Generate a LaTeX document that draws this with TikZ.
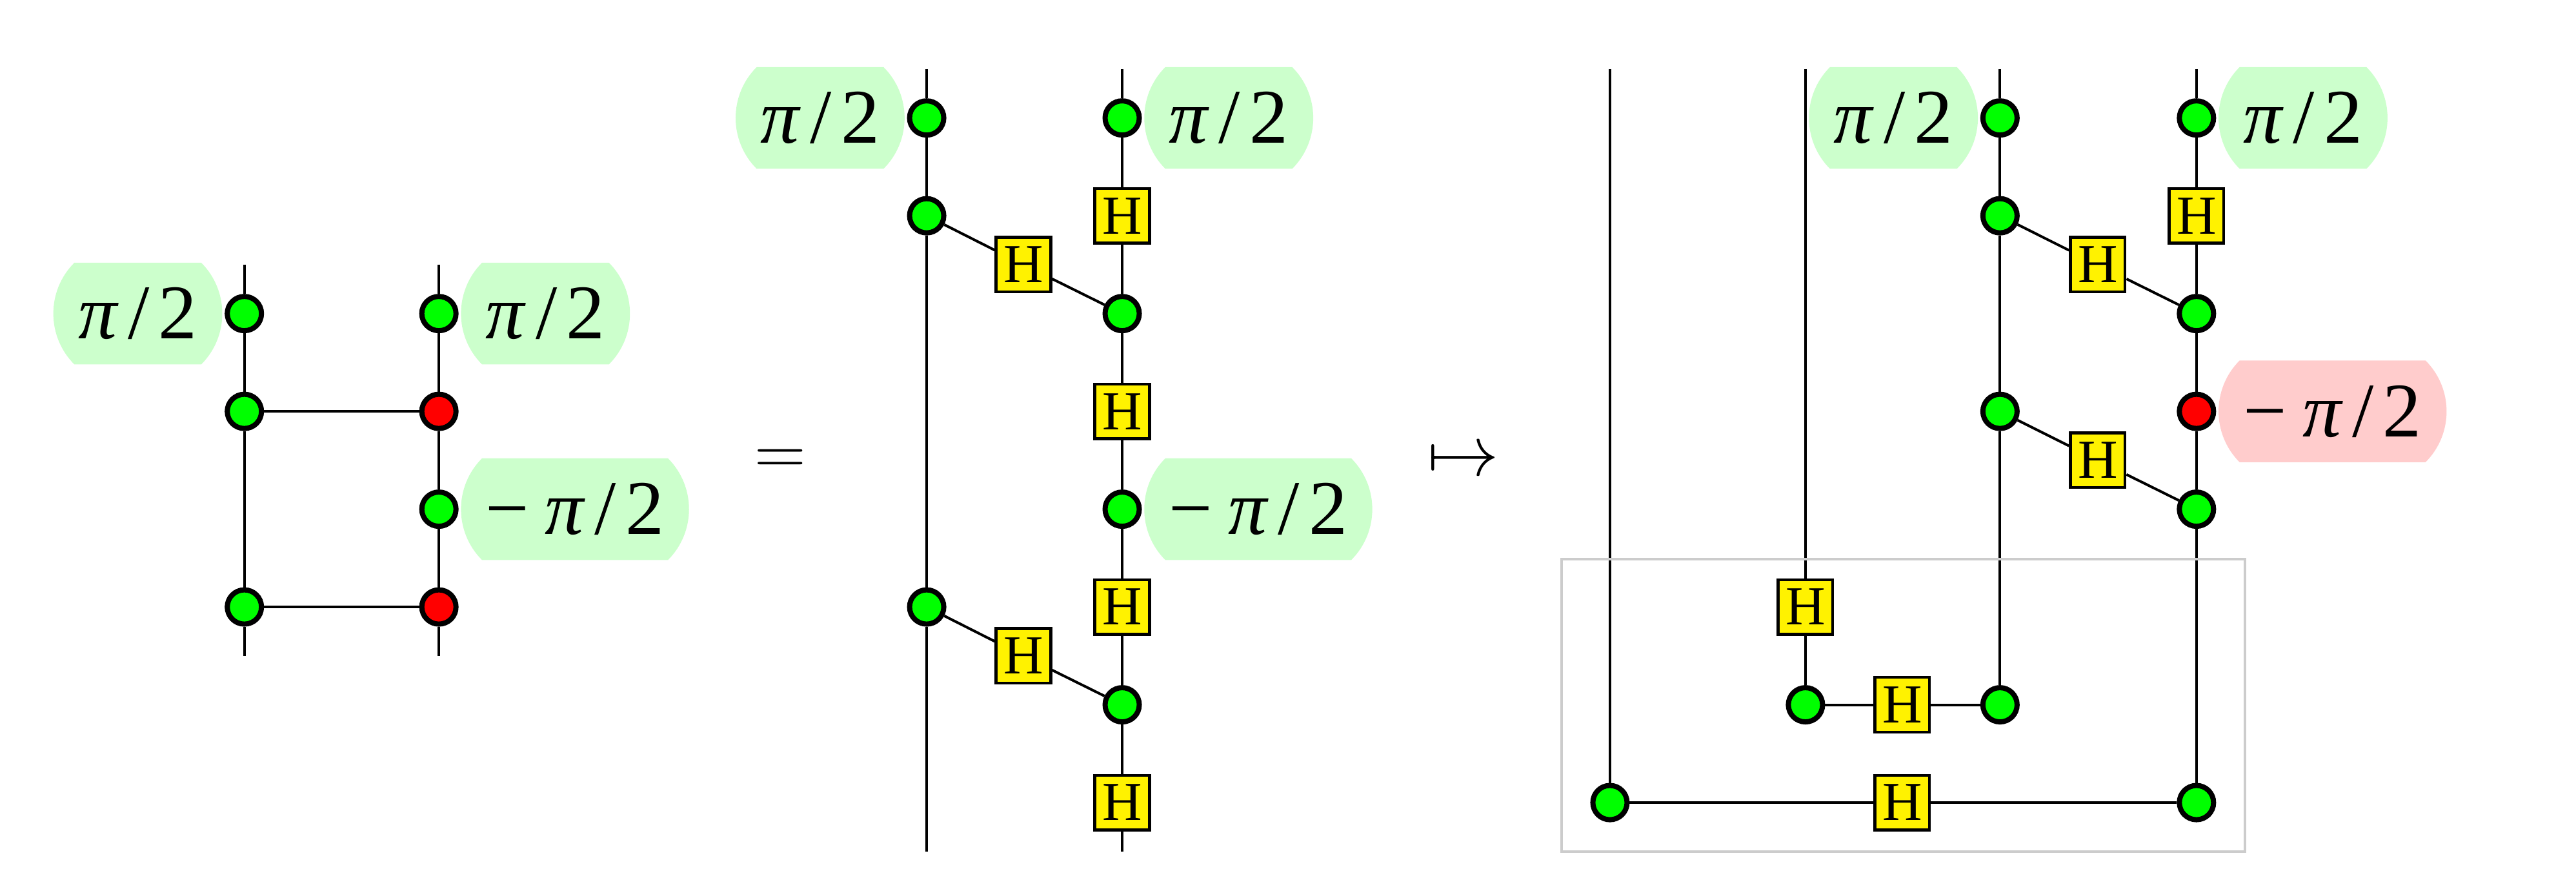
\documentclass[tikz,border=0pt]{standalone}
\usepackage{amsmath}
\usepackage{amssymb}
\usepackage{fontspec}
\setmainfont{Liberation Serif}
\usetikzlibrary{positioning,shapes.misc,backgrounds}
\newcommand{\halfpi}{\textit{π}\kern.12em/\kern.12em 2}
\tikzset{
wire/.style={line width=.75pt},
gs/.style={circle,draw,line width=1.5pt,fill=green,minimum size=.35cm,inner sep=0pt},
rs/.style={gs,fill=red},
hbox/.style={rectangle,draw,line width=.8pt,fill=yellow,minimum size=.56cm,inner sep=0pt,font=\fontsize{16}{19}\selectfont},
gphase/.style={rounded rectangle,rounded rectangle arc length=90,fill=green!20,minimum height=1.04cm,inner xsep=.205cm,inner ysep=0pt,font=\fontsize{22.5}{27}\selectfont},
rphase/.style={gphase,fill=red!20},
groupbox/.style={rectangle,draw=black!20,line width=.8pt,minimum width=6.99cm,minimum height=2.99cm,inner sep=0pt},
}

\begin{document}
\begin{tikzpicture}
\useasboundingbox (0,-.403) rectangle (26.353,8.706);

\node[groupbox] (box) at (19.47,1.495) {};

% left
\coordinate (at1) at (2.5,6);
\coordinate (at2) at (4.49,6);
\coordinate (ab1) at (2.5,2);
\coordinate (ab2) at (4.49,2);
\node[gs] (a1) at (2.5,5.5) {};
\node[gs] (a2) at (2.5,4.5) {};
\node[gs] (a3) at (2.5,2.5) {};
\node[gs] (a4) at (4.49,5.5) {};
\node[rs] (a5) at (4.49,4.5) {};
\node[gs] (a6) at (4.49,3.5) {};
\node[rs] (a7) at (4.49,2.5) {};
\node[gphase,left=.5pt of a1] (pa1) {\halfpi};
\node[gphase,right=.5pt of a4] (pa4) {\halfpi};
\node[gphase,right=.5pt of a6] (pa6) {−\kern.2em\halfpi};

\node (eq) at (7.98,3.98) {\huge $=$};

% middle
\coordinate (bt1) at (9.48,8);
\coordinate (bt2) at (11.48,8);
\coordinate (bb1) at (9.48,0);
\coordinate (bb2) at (11.48,0);
\node[gs] (b1) at (9.48,7.5) {};
\node[gs] (b2) at (9.48,6.5) {};
\node[gs] (b3) at (9.48,2.5) {};
\node[gs] (b4) at (11.48,7.5) {};
\node[hbox] (h1) at (11.48,6.5) {H};
\node[gs] (b5) at (11.48,5.5) {};
\node[hbox] (h2) at (11.48,4.5) {H};
\node[gs] (b6) at (11.48,3.5) {};
\node[hbox] (h3) at (11.48,2.5) {H};
\node[gs] (b7) at (11.48,1.5) {};
\node[hbox] (h4) at (11.48,.5) {H};
\node[hbox] (h5) at (10.47,6) {H};
\node[hbox] (h6) at (10.47,2) {H};
\node[gphase,left=.5pt of b1] (pb1) {\halfpi};
\node[gphase,right=.5pt of b4] (pb4) {\halfpi};
\node[gphase,right=.5pt of b6] (pb6) {−\kern.2em\halfpi};

\node (to) at (14.97,3.98) {\huge $\mapsto$};

% right
\coordinate (ct1) at (16.47,8);
\coordinate (ct2) at (18.47,8);
\coordinate (ct3) at (20.46,8);
\coordinate (ct4) at (22.47,8);
\node[gs] (c1) at (16.47,.5) {};
\node[gs] (c2) at (18.47,1.5) {};
\node[gs] (c3) at (20.46,7.5) {};
\node[gs] (c4) at (20.46,6.5) {};
\node[gs] (c5) at (20.46,4.5) {};
\node[gs] (c6) at (20.46,1.5) {};
\node[gs] (c7) at (22.47,7.5) {};
\node[gs] (c8) at (22.47,5.5) {};
\node[rs] (c9) at (22.47,4.5) {};
\node[gs] (c10) at (22.47,3.5) {};
\node[gs] (c11) at (22.47,.5) {};
\node[hbox] (k1) at (18.47,2.5) {H};
\node[hbox] (k2) at (19.46,1.5) {H};
\node[hbox] (k3) at (19.46,.5) {H};
\node[hbox] (k4) at (22.47,6.5) {H};
\node[hbox] (k5) at (21.46,6) {H};
\node[hbox] (k6) at (21.46,4) {H};
\node[gphase,left=.5pt of c3] (pc3) {\halfpi};
\node[gphase,right=.5pt of c7] (pc7) {\halfpi};
\node[rphase,right=.5pt of c9] (pc9) {−\kern.2em\halfpi};

\begin{pgfonlayer}{background}
\draw[wire] (at1) -- (a1) -- (a2) -- (a3) -- (ab1);
\draw[wire] (at2) -- (a4) -- (a5) -- (a6) -- (a7) -- (ab2);
\draw[wire] (a2) -- (a5);
\draw[wire] (a3) -- (a7);
\draw[wire] (bt1) -- (b1) -- (b2) -- (b3) -- (bb1);
\draw[wire] (bt2) -- (b4) -- (h1) -- (b5) -- (h2) -- (b6) -- (h3) -- (b7) -- (h4) -- (bb2);
\draw[wire] (b2) -- (h5) -- (b5);
\draw[wire] (b3) -- (h6) -- (b7);
\draw[wire] (ct1) -- (c1);
\draw[wire] (ct2) -- (k1) -- (c2);
\draw[wire] (ct3) -- (c3) -- (c4) -- (c5) -- (c6);
\draw[wire] (ct4) -- (c7) -- (k4) -- (c8) -- (c9) -- (c10) -- (c11);
\draw[wire] (c4) -- (k5) -- (c8);
\draw[wire] (c5) -- (k6) -- (c10);
\draw[wire] (c2) -- (k2) -- (c6);
\draw[wire] (c1) -- (k3) -- (c11);
\end{pgfonlayer}
\end{tikzpicture}
\end{document}
